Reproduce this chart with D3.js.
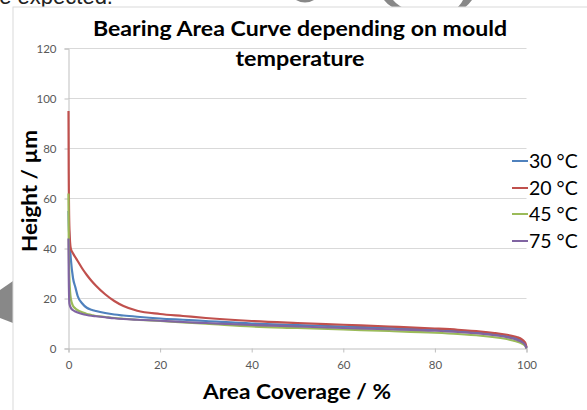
<!DOCTYPE html>
<html><head><meta charset="utf-8">
<script src="https://cdn.jsdelivr.net/npm/d3@7"></script>
<style>html,body{margin:0;padding:0;background:#fff;overflow:hidden}</style>
</head><body>
<svg id="c" width="587" height="410"></svg>
<script>
const coverage = [0, 0.05, 0.2, 0.5, 1, 1.5, 2, 3, 4, 5, 6, 8, 10, 12, 15, 20, 25, 30, 40, 50, 60, 70, 80, 85, 90, 93, 95, 97, 98, 99, 99.5, 99.8, 100];
const h30 = [55, 50, 44, 36, 28, 24.5, 21, 18, 16.3, 15.5, 15, 14.2, 13.6, 13.2, 12.7, 12, 11.5, 11, 10, 9.4, 8.8, 8.3, 7.6, 7.1, 6.4, 5.8, 5.2, 4.4, 3.9, 3, 2.2, 1.4, 0.3];
const h20 = [95, 70, 48, 40, 38, 36.5, 35, 32, 29.4, 27.1, 25.1, 21.7, 19, 17, 15.1, 13.8, 13, 12.2, 11, 10.2, 9.5, 8.8, 8, 7.5, 6.8, 6.2, 5.7, 5, 4.5, 3.6, 2.8, 2, 0.5];
const h45 = [62, 45, 28, 20, 17, 16, 15.3, 14.5, 13.8, 13.4, 13, 12.6, 12.2, 11.9, 11.5, 11, 10.4, 9.9, 8.8, 8.2, 7.6, 7, 6.3, 5.8, 5.1, 4.5, 4, 3.2, 2.7, 2, 1.4, 0.8, 0];
const h75 = [44, 30, 18, 16.3, 15.3, 14.8, 14.4, 13.8, 13.4, 13.1, 12.9, 12.5, 12.1, 11.8, 11.5, 11.1, 10.6, 10.2, 9.4, 8.8, 8.2, 7.7, 7.1, 6.6, 5.9, 5.3, 4.8, 4, 3.4, 2.6, 1.9, 1.1, 0];
const seriesNames = ["30 °C", "20 °C", "45 °C", "75 °C"];
const seriesValues = [h30, h20, h45, h75];
const colors = ["#4F81BD", "#C0504D", "#9BBB59", "#8064A2"];
const xTicks = [0, 20, 40, 60, 80, 100];
const yTicks = [0, 20, 40, 60, 80, 100, 120];
const titleLines = ["Bearing Area Curve depending on mould", "temperature"];

const svg = d3.select("#c");
const font = "Lato, 'Open Sans', sans-serif";

// background decorations (slide context)
svg.append("text").attr("x", -13).attr("y", 4).attr("font-family", "'Liberation Sans', Arial, sans-serif")
  .attr("font-size", 22).attr("fill", "#222").text("be expected.");
svg.append("path").attr("d", "M296,0 Q305,5 314,0 Z").attr("fill", "#888");
svg.append("path").attr("d", "M384,0 L393,0 Q398,6 408,10 L404,12 Q390,8 384,0 Z").attr("fill", "#888");
svg.append("path").attr("d", "M463,0 L472,0 Q466,8 458,12 L454,10 Q460,6 463,0 Z").attr("fill", "#888");
svg.append("path").attr("d", "M13,281 L13,323 L0,318 L0,290 Z").attr("fill", "#888");

// chart frame
svg.append("rect").attr("x", 13).attr("y", 7).attr("width", 600).attr("height", 420)
  .attr("fill", "#fff").attr("stroke", "#d9d9d9").attr("stroke-width", 1);

const x = d3.scaleLinear().domain([0, 100]).range([68.5, 526.5]);
const y = d3.scaleLinear().domain([0, 120]).range([348.5, 48.5]);

// gridlines
svg.append("g").selectAll("line").data(yTicks.filter(d => d > 0)).join("line")
  .attr("x1", x(0)).attr("x2", x(100)).attr("y1", d => y(d)).attr("y2", d => y(d))
  .attr("stroke", "#d9d9d9").attr("stroke-width", 1);

// axes
const xAxis = svg.append("g").attr("transform", `translate(0,${y(0)})`)
  .call(d3.axisBottom(x).tickValues(xTicks).tickSize(4).tickPadding(8).tickFormat(d3.format("d")));
const yAxis = svg.append("g").attr("transform", `translate(${x(0)},0)`)
  .call(d3.axisLeft(y).tickValues(yTicks).tickSize(4).tickPadding(8).tickFormat(d3.format("d")));
[xAxis, yAxis].forEach(a => {
  a.select(".domain").attr("stroke", "#bfbfbf");
  a.selectAll(".tick line").attr("stroke", "#bfbfbf");
  a.selectAll("text").attr("font-family", font).attr("font-size", 11.5).attr("fill", "#595959");
});

// lines
const line = d3.line().x((d, i) => x(coverage[i])).y(d => y(d)).curve(d3.curveMonotoneX);
seriesValues.forEach((vals, k) => {
  svg.append("path").datum(vals).attr("d", line).attr("fill", "none")
    .attr("stroke", colors[k]).attr("stroke-width", 2.2).attr("stroke-linejoin", "round");
});

// title
svg.append("text").attr("x", 300).attr("y", 36).attr("text-anchor", "middle")
  .attr("font-family", font).attr("font-weight", "bold").attr("font-size", 21).attr("fill", "#000")
  .attr("textLength", 414).attr("lengthAdjust", "spacingAndGlyphs").text(titleLines[0]);
svg.append("text").attr("x", 300).attr("y", 66).attr("text-anchor", "middle")
  .attr("font-family", font).attr("font-weight", "bold").attr("font-size", 21).attr("fill", "#000")
  .attr("textLength", 129).attr("lengthAdjust", "spacingAndGlyphs").text(titleLines[1]);

// axis titles
svg.append("text").attr("x", 297).attr("y", 399).attr("text-anchor", "middle")
  .attr("font-family", font).attr("font-weight", "bold").attr("font-size", 21).attr("fill", "#000")
  .attr("textLength", 188).attr("lengthAdjust", "spacingAndGlyphs").text("Area Coverage / %");
svg.append("text").attr("transform", "translate(37,191) rotate(-90)").attr("text-anchor", "middle")
  .attr("font-family", font).attr("font-weight", "bold").attr("font-size", 21).attr("fill", "#000")
  .attr("textLength", 122).attr("lengthAdjust", "spacingAndGlyphs").text("Height / µm");

// legend
const ly = [161, 188, 214, 241];
const lg = svg.append("g");
seriesNames.forEach((n, k) => {
  lg.append("line").attr("x1", 512).attr("x2", 528).attr("y1", ly[k]).attr("y2", ly[k])
    .attr("stroke", colors[k]).attr("stroke-width", 2);
  lg.append("text").attr("x", 529).attr("y", ly[k]).attr("dy", "0.35em")
    .attr("font-family", font).attr("font-size", 19.5).attr("fill", "#000").text(n);
});
</script>
</body></html>
